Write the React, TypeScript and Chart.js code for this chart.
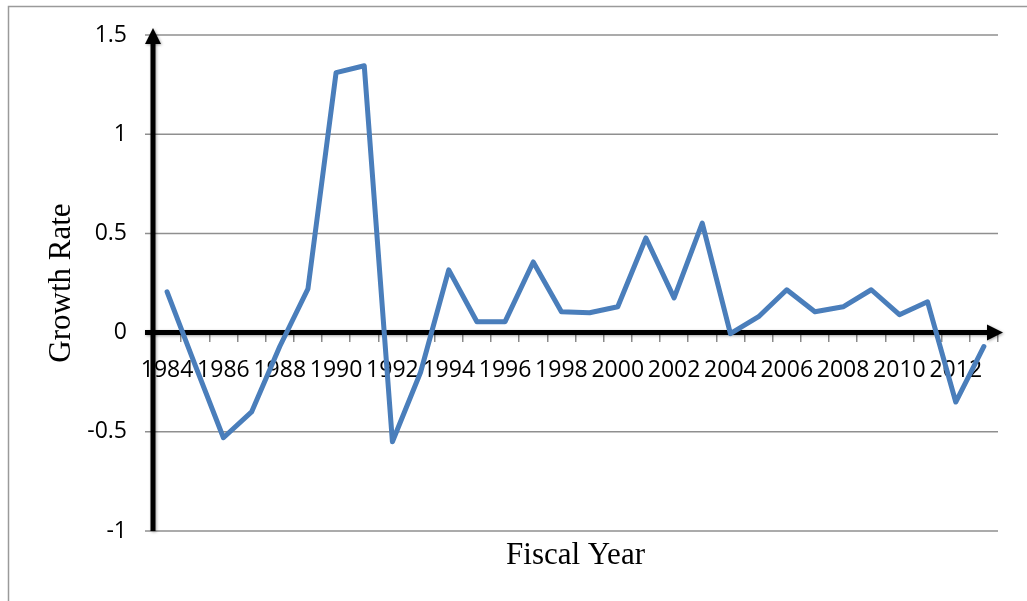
import React, { useEffect, useRef } from "react";
import { Chart, registerables } from "chart.js";

Chart.register(...registerables);

// Fiscal years shown on the category axis
const years: string[] = [
  "1984", "1985", "1986", "1987", "1988", "1989", "1990", "1991", "1992", "1993",
  "1994", "1995", "1996", "1997", "1998", "1999", "2000", "2001", "2002", "2003",
  "2004", "2005", "2006", "2007", "2008", "2009", "2010", "2011", "2012", "2013",
];

// Annual growth rate per fiscal year
const growthRate: number[] = [
  0.205, -0.165, -0.53, -0.4, -0.07, 0.22, 1.31, 1.345, -0.55, -0.2,
  0.316, 0.055, 0.055, 0.356, 0.105, 0.1, 0.13, 0.477, 0.175, 0.552,
  -0.005, 0.08, 0.216, 0.105, 0.13, 0.216, 0.09, 0.155, -0.35, -0.07,
];

// Value axis range and step
const yMin = -1;
const yMax = 1.5;
const yStep = 0.5;

const LINE_BLUE = "#4a7ebb";
const GRID_GRAY = "#8f8f8f";

// Outer frame around the whole figure (left and top edges visible)
const framePlugin = {
  id: "frame",
  beforeDraw(chart: any) {
    const ctx = chart.ctx;
    ctx.save();
    ctx.strokeStyle = "#9a9a9a";
    ctx.lineWidth = 1.5;
    ctx.beginPath();
    ctx.moveTo(8.5, chart.height + 2);
    ctx.lineTo(8.5, 6.5);
    ctx.lineTo(chart.width + 2, 6.5);
    ctx.stroke();
    ctx.restore();
  },
};

// Horizontal gridlines at each value tick, spanning the category axis only
const gridPlugin = {
  id: "valueGrid",
  beforeDatasetsDraw(chart: any) {
    const { ctx, scales } = chart;
    const y = scales.y;
    const xs = scales.x;
    const left = xs.left - 8;
    const right = xs.right;
    ctx.save();
    ctx.beginPath();
    ctx.rect(left, 0, right - left, chart.height);
    ctx.clip();
    ctx.strokeStyle = GRID_GRAY;
    ctx.lineWidth = 1.5;
    for (const t of y.ticks) {
      const py = y.getPixelForValue(t.value);
      ctx.beginPath();
      ctx.moveTo(left, py);
      ctx.lineTo(right, py);
      ctx.stroke();
    }
    ctx.restore();
  },
};

// Heavy black axes with arrowheads, crossing at zero
const arrowAxesPlugin = {
  id: "arrowAxes",
  beforeDatasetsDraw(chart: any) {
    const { ctx, scales } = chart;
    const y = scales.y;
    const xs = scales.x;
    const x0 = xs.left;
    const y0 = y.getPixelForValue(0);
    const yTop = y.getPixelForValue(yMax);
    const yBottom = y.getPixelForValue(yMin);
    ctx.save();
    ctx.shadowColor = "rgba(0,0,0,0.35)";
    ctx.shadowBlur = 3;
    ctx.shadowOffsetX = 1;
    ctx.shadowOffsetY = 1;
    ctx.fillStyle = "#000";
    ctx.strokeStyle = "#000";
    ctx.lineWidth = 5;
    ctx.lineCap = "butt";

    // vertical axis
    const vTip = yTop - 7;
    ctx.beginPath();
    ctx.moveTo(x0, yBottom);
    ctx.lineTo(x0, vTip + 14);
    ctx.stroke();
    ctx.beginPath();
    ctx.moveTo(x0, vTip);
    ctx.lineTo(x0 - 8, vTip + 16);
    ctx.lineTo(x0 + 8, vTip + 16);
    ctx.closePath();
    ctx.fill();

    // horizontal axis
    const hTip = xs.right + 5;
    ctx.beginPath();
    ctx.moveTo(x0 - 8, y0);
    ctx.lineTo(hTip - 14, y0);
    ctx.stroke();
    ctx.beginPath();
    ctx.moveTo(hTip, y0);
    ctx.lineTo(hTip - 16, y0 - 8);
    ctx.lineTo(hTip - 16, y0 + 8);
    ctx.closePath();
    ctx.fill();
    ctx.restore();
  },
};

export default function App() {
  const canvasRef = useRef<HTMLCanvasElement | null>(null);

  useEffect(() => {
    const canvas = canvasRef.current;
    if (!canvas) return;
    const chart = new Chart(canvas, {
      type: "line",
      data: {
        labels: years,
        datasets: [
          {
            label: "Growth Rate",
            data: growthRate,
            xAxisID: "x",
            yAxisID: "y",
            borderColor: LINE_BLUE,
            backgroundColor: LINE_BLUE,
            borderWidth: 5,
            borderJoinStyle: "round",
            borderCapStyle: "round",
            pointRadius: 0,
            tension: 0,
            fill: false,
          },
        ],
      },
      options: {
        responsive: false,
        animation: false,
        layout: { padding: { left: 0, top: 35, right: 29, bottom: 0 } },
        plugins: {
          legend: { display: false },
          tooltip: { enabled: false },
        },
        scales: {
          x: {
            type: "category",
            position: { y: 0 },
            offset: true,
            border: { display: false },
            grid: {
              display: true,
              drawOnChartArea: false,
              drawTicks: true,
              tickLength: 9,
              offset: true,
              color: "#8a8a8a",
              lineWidth: 1.5,
            },
            ticks: {
              autoSkip: false,
              maxRotation: 0,
              minRotation: 0,
              padding: 15,
              color: "#000",
              font: { family: "'Open Sans'", size: 23 },
              callback: function (this: any, value: any, index: number) {
                return index % 2 === 0 ? this.getLabelForValue(value) : "";
              },
            },
            afterFit(scale: any) {
              scale.height = 0;
            },
          },
          x2: {
            type: "category",
            position: "bottom",
            offset: true,
            border: { display: false },
            grid: { display: false },
            ticks: { display: false },
            title: {
              display: true,
              text: "Fiscal Year",
              color: "#000",
              font: { family: "'Liberation Serif'", size: 31 },
              padding: { top: 0, bottom: 27 },
            },
            afterFit(scale: any) {
              scale.height = 70;
            },
          },
          y: {
            type: "linear",
            position: "left",
            min: yMin,
            max: yMax,
            border: { display: false },
            grid: {
              display: true,
              drawOnChartArea: false,
              drawTicks: true,
              tickLength: 8,
              color: "rgba(0,0,0,0)",
            },
            ticks: {
              stepSize: yStep,
              padding: 18,
              color: "#000",
              font: { family: "'Open Sans'", size: 23 },
              callback: (value: any) => String(Math.round(Number(value) * 10) / 10),
            },
            title: {
              display: true,
              text: "Growth Rate",
              color: "#000",
              font: { family: "'Liberation Serif'", size: 31 },
              padding: { top: 43, bottom: 0 },
            },
            afterFit(scale: any) {
              scale.width = 153;
            },
          },
        },
      },
      plugins: [framePlugin, gridPlugin, arrowAxesPlugin],
    });
    return () => chart.destroy();
  }, []);

  return (
    <canvas
      ref={canvasRef}
      width={1027}
      height={601}
      style={{ position: "absolute", left: 0, top: 0, display: "block" }}
    />
  );
}
